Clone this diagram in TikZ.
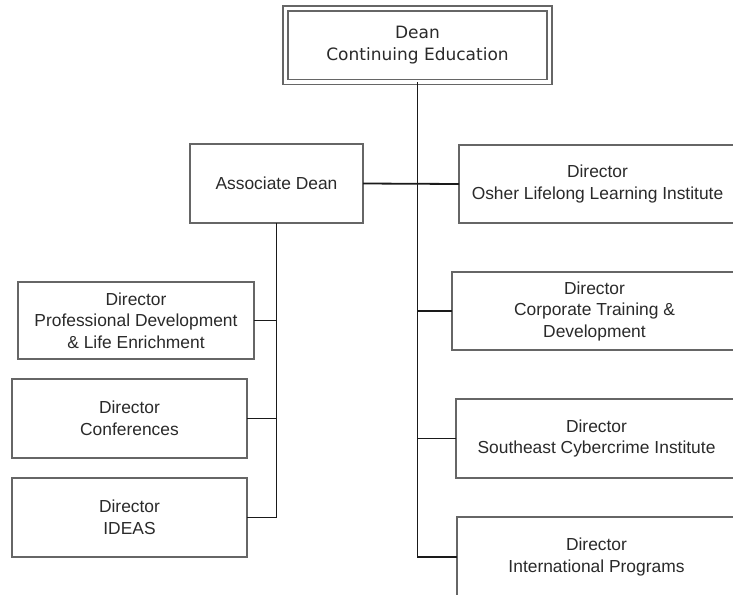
\documentclass[tikz,border=0pt]{standalone}
\usepackage{fontspec}
\setmainfont{Liberation Sans}
\newfontfamily\deanfont{DejaVu Sans}
\definecolor{boxline}{HTML}{666666}
\definecolor{linkline}{HTML}{1A1A1A}
\definecolor{inkgray}{HTML}{2A2A2A}
\begin{document}
\begin{tikzpicture}[x=1pt,y=-1pt,
  orgbox/.style={draw=boxline, line width=2pt, fill=white, inner sep=0pt,
    outer sep=0pt, align=center, text=inkgray,
    font=\fontsize{17.4}{21.5}\selectfont},
  headbox/.style={orgbox, double=white, line width=1.7pt, double distance=3.3pt,
    font=\deanfont\fontsize{17}{22}\selectfont},
  link/.style={draw=linkline, line width=1.8pt}]
\useasboundingbox (0,0) rectangle (733,594);
\fill[white] (0,0) rectangle (733,594);
\clip (0,0) rectangle (733,594);

% top of the chart
\node[headbox, minimum width=264pt, minimum height=73.5pt] (dean) at (417.5,45.25)
  {Dean\\Continuing Education};

% second level
\node[orgbox, minimum width=173pt, minimum height=79pt] (assoc) at (276.5,183.5)
  {Associate Dean};
\node[orgbox, minimum width=277pt, minimum height=78pt] (osher) at (597.5,184)
  {Director\\Osher Lifelong Learning Institute};

% directors reporting to the dean
\node[orgbox, minimum width=285pt, minimum height=78pt] (corp) at (594.5,311)
  {Director\\Corporate Training \&\\Development};
\node[orgbox, minimum width=281pt, minimum height=79pt] (se) at (596.5,438.5)
  {Director\\Southeast Cybercrime Institute};
\node[orgbox, minimum width=279pt, minimum height=80pt] (intl) at (596.5,557)
  {Director\\International Programs};

% directors reporting to the associate dean
\node[orgbox, minimum width=236pt, minimum height=77pt] (prof) at (136,320.5)
  {Director\\Professional Development\\\& Life Enrichment};
\node[orgbox, minimum width=235pt, minimum height=79pt] (conf) at (129.5,418.5)
  {Director\\Conferences};
\node[orgbox, minimum width=235pt, minimum height=79pt] (ideas) at (129.5,517.5)
  {Director\\IDEAS};

% reporting lines
\draw[link] (dean.south) -- (dean.south |- intl.west) -- (intl.west);
\draw[link] (assoc.east) -- (osher.west);
\draw[link] (dean.south |- corp.west) -- (corp.west);
\draw[link] (dean.south |- se.west) -- (se.west);
\draw[link] (assoc.south) -- (assoc.south |- ideas.east) -- (ideas.east);
\draw[link] (assoc.south |- prof.east) -- (prof.east);
\draw[link] (assoc.south |- conf.east) -- (conf.east);
\end{tikzpicture}
\end{document}
